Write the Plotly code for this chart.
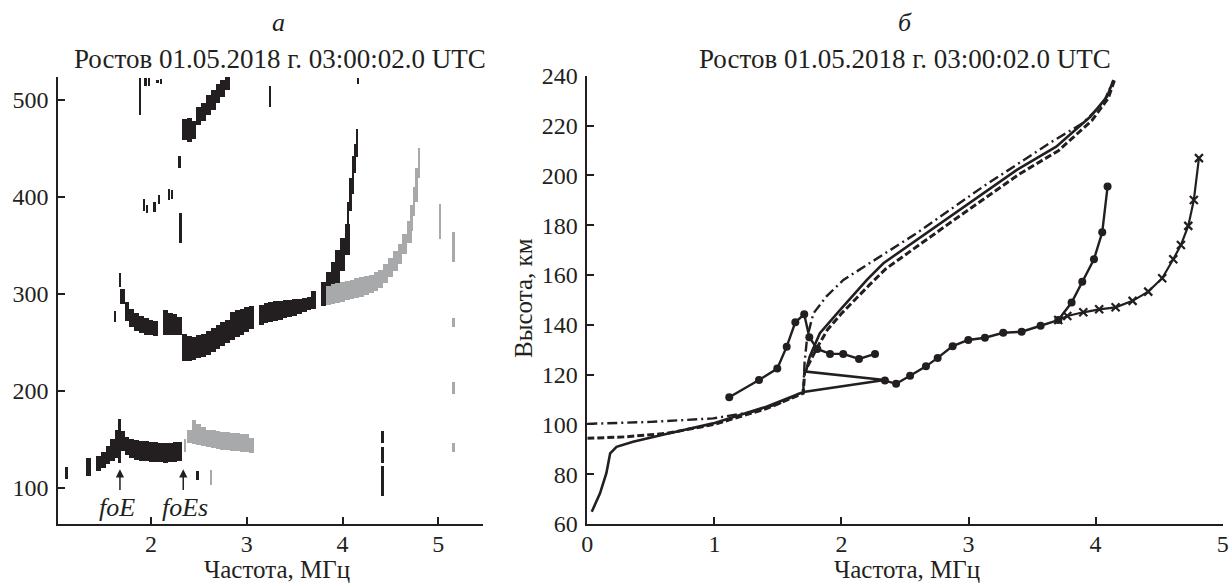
import plotly.graph_objects as go

BLACK = "#231f20"
GREY = "#a8a9ab"
FONT = "Liberation Serif"

# ---------------- panel a: ionogram (frequency, MHz; virtual height, km) ----------------
# ordinary-mode E / Es trace (black)
e_f  = [1.35, 1.45, 1.50, 1.55, 1.60, 1.65, 1.70, 1.75, 1.80, 1.85, 1.90, 1.95,
        2.00, 2.05, 2.10, 2.15, 2.20, 2.25, 2.30]
e_lo = [112, 117, 120, 124, 128, 131, 138, 134, 131, 129, 128, 127,
        126, 126, 126, 125, 126, 126, 127]
e_hi = [131, 133, 137, 143, 150, 160, 158, 152, 150, 149, 148, 148,
        147, 147, 146, 146, 146, 147, 147]

# Es trace above foEs (grey)
es_f  = [2.40, 2.45, 2.50, 2.55, 2.60, 2.65, 2.70, 2.75, 2.80, 2.85, 2.90, 2.95, 3.00, 3.05]
es_lo = [146, 145, 144, 143, 142, 141, 140, 139, 138.5, 138, 137.5, 137, 136.5, 136]
es_hi = [160, 170, 166, 163, 160, 159, 158, 157.5, 157, 156, 156, 155, 155, 151]

# F trace seen through the Es layer (black)
fl_f  = [1.70, 1.75, 1.80, 1.85, 1.90, 1.95, 2.00, 2.05, 2.15, 2.20, 2.25, 2.30]
fl_lo = [290, 272, 266, 262, 260, 258, 257, 256, 258, 258, 257, 257]
fl_hi = [305, 292, 284, 280, 277, 275, 273, 272, 283, 280, 279, 276]

# F trace, ordinary mode (black)
fo_f  = [2.35, 2.40, 2.45, 2.50, 2.55, 2.60, 2.65, 2.70, 2.75, 2.80, 2.85, 2.90,
         2.95, 3.00, 3.05, 3.15, 3.20, 3.25, 3.30, 3.35, 3.40, 3.45, 3.50, 3.55,
         3.60, 3.65, 3.70, 3.80, 3.85, 3.90, 3.95, 4.00, 4.05]
fo_lo = [231, 231, 232, 234, 235, 237, 240, 243, 246, 249, 252, 255,
         258, 261, 264, 268, 270, 271, 272, 273, 275, 276, 277, 279,
         281, 283, 284, 287, 290, 296, 308, 324, 340]
fo_hi = [259, 256, 255, 257, 259, 262, 265, 268, 271, 273, 281, 283,
         284, 286, 287, 288, 291, 292, 293, 293, 294, 294, 295, 295,
         296, 297, 303, 312, 322, 333, 345, 358, 372]

# F trace, extraordinary mode (grey)
fx_f  = [3.85, 3.90, 3.95, 4.00, 4.05, 4.10, 4.15, 4.20, 4.25, 4.30, 4.35, 4.40,
         4.45, 4.50, 4.55, 4.60, 4.65, 4.70]
fx_lo = [288, 290, 291, 292, 294, 295, 296, 297, 299, 301, 303, 306,
         311, 317, 324, 331, 341, 352]
fx_hi = [308, 310, 311, 312, 313, 314, 316, 317, 318, 319, 322, 325,
         331, 337, 344, 351, 362, 375]

# second-hop F trace (black)
f2_f  = [2.35, 2.40, 2.45, 2.50, 2.55, 2.60, 2.65, 2.70, 2.75, 2.80]
f2_lo = [459, 457, 460, 474, 478, 485, 490, 497, 503, 510]
f2_hi = [480, 481, 478, 493, 497, 505, 510, 516, 521, 524]

# narrow echoes and interference lines (black)
nb_f  = [1.12, 1.624, 1.676, 1.675, 4.06, 4.085, 4.11, 4.135, 4.155,
         1.885, 1.945, 1.98, 2.07, 2.11, 3.245, 4.165,
         1.93, 1.96, 2.04, 2.085, 2.19, 2.22, 2.31, 2.30,
         2.49, 4.42, 4.42, 4.42]
nb_lo = [109, 271, 307, 125, 365, 385, 403, 425, 441,
         484, 514, 514, 517, 516, 493, 516,
         385, 383, 384, 393, 397, 398, 352, 430,
         108, 146, 125, 91]
nb_hi = [121, 282, 321, 171, 395, 420, 442, 455, 470,
         523, 523, 523, 521, 522, 514, 523,
         398, 392, 395, 402, 408, 407, 383, 442,
         117, 158, 142, 122]

# narrow echoes and interference lines (grey)
ng_f  = [2.36, 2.63, 4.725, 4.75, 4.775, 4.80, 5.02, 5.16, 5.16, 5.16, 5.16]
ng_lo = [137, 103, 365, 380, 395, 420, 357, 333, 266, 197, 137]
ng_hi = [150, 118, 392, 410, 430, 450, 393, 364, 275, 209, 146]

# ---------------- panel б: height profiles ----------------
prof_es_f = [0.035, 0.10, 0.15, 0.18, 0.23, 0.36, 0.62, 0.99, 1.41, 1.54, 1.70, 2.34,
             1.72, 1.75, 1.83, 1.99, 2.20, 2.33, 2.85, 3.38, 3.69, 3.96, 4.09, 4.14]
prof_es_h = [64.9, 72.3, 80.4, 88.4, 91.0, 93.0, 96.1, 100.4, 107.1, 109.8, 113.0, 117.8,
             121.2, 127.2, 136.6, 146.0, 158.0, 164.7, 183.4, 202.2, 211.5, 223.6, 231.6, 238.3]

prof_dash_f = [0.0, 0.3, 0.625, 1.0, 1.41, 1.54, 1.70, 1.71, 1.74, 1.81, 1.89, 2.0,
               2.22, 2.35, 2.87, 3.40, 3.71, 3.97, 4.10, 4.15]
prof_dash_h = [94.4, 95.0, 96.4, 100.0, 106.3, 109.0, 112.5, 121.0, 124.0, 131.0, 138.0, 144.5,
               156.0, 162.5, 181.5, 200.5, 210.0, 222.0, 231.0, 238.5]

prof_dd_f = [0.0, 0.5, 0.99, 1.30, 1.516, 1.67, 1.70, 1.71, 1.73, 1.78, 1.88, 2.015,
             2.59, 3.116, 3.64, 3.90, 4.06, 4.14]
prof_dd_h = [100.2, 101.0, 102.4, 105.0, 108.5, 112.5, 114.0, 125.0, 135.0, 144.6, 151.3, 158.0,
             176.7, 195.5, 213.0, 221.0, 229.0, 238.0]

hes_f = [1.117, 1.351, 1.495, 1.569, 1.637, 1.707, 1.747, 1.81, 1.91, 2.014, 2.138, 2.264]
hes_h = [110.9, 117.8, 122.4, 131.2, 141.0, 144.2, 135.0, 130.3, 128.3, 128.3, 126.3, 128.3]

ho_f = [2.342, 2.43, 2.54, 2.665, 2.757, 2.875, 2.998, 3.129, 3.273, 3.418, 3.567, 3.706,
        3.811, 3.895, 3.987, 4.052, 4.094]
ho_h = [117.6, 116.3, 119.5, 123.3, 126.7, 131.4, 133.9, 134.8, 136.8, 137.2, 139.6, 141.9,
        148.9, 157.3, 166.3, 177.1, 195.5]

hx_f = [3.706, 3.777, 3.903, 4.028, 4.157, 4.291, 4.414, 4.524, 4.611, 4.671, 4.729, 4.773, 4.813]
hx_h = [141.9, 143.5, 145.0, 146.2, 147.0, 149.6, 153.3, 158.7, 166.3, 172.0, 179.7, 190.1, 206.9]

fig = go.Figure()

BAND_W = 0.05
THIN_W = 0.02


def band(f, lo, hi, color, width):
    fig.add_trace(go.Bar(
        x=f, y=[b - a for a, b in zip(lo, hi)], base=lo, width=width,
        marker=dict(color=color, line=dict(width=0)),
        xaxis="x", yaxis="y", hoverinfo="skip"))


band(e_f, e_lo, e_hi, BLACK, BAND_W)
band(es_f, es_lo, es_hi, GREY, BAND_W)
band(fl_f, fl_lo, fl_hi, BLACK, BAND_W)
band(fo_f, fo_lo, fo_hi, BLACK, BAND_W)
band(fx_f, fx_lo, fx_hi, GREY, BAND_W)
band(f2_f, f2_lo, f2_hi, BLACK, BAND_W)
band(nb_f, nb_lo, nb_hi, BLACK, THIN_W)
band(ng_f, ng_lo, ng_hi, GREY, THIN_W)

# right panel curves
fig.add_trace(go.Scatter(x=prof_dd_f, y=prof_dd_h, mode="lines", xaxis="x2", yaxis="y2",
                         line=dict(color=BLACK, width=2.4, dash="10px,4px,2px,4px")))
fig.add_trace(go.Scatter(x=prof_dash_f, y=prof_dash_h, mode="lines", xaxis="x2", yaxis="y2",
                         line=dict(color=BLACK, width=3, dash="7px,3px")))
fig.add_trace(go.Scatter(x=prof_es_f, y=prof_es_h, mode="lines", xaxis="x2", yaxis="y2",
                         line=dict(color=BLACK, width=2.6)))
fig.add_trace(go.Scatter(x=hes_f, y=hes_h, mode="lines+markers", xaxis="x2", yaxis="y2",
                         line=dict(color=BLACK, width=2.4),
                         marker=dict(symbol="circle", size=8, color=BLACK)))
fig.add_trace(go.Scatter(x=ho_f, y=ho_h, mode="lines+markers", xaxis="x2", yaxis="y2",
                         line=dict(color=BLACK, width=2.4),
                         marker=dict(symbol="circle", size=8, color=BLACK)))
fig.add_trace(go.Scatter(x=hx_f, y=hx_h, mode="lines+markers", xaxis="x2", yaxis="y2",
                         line=dict(color=BLACK, width=2.2),
                         marker=dict(symbol="x-thin", size=8,
                                     line=dict(color=BLACK, width=2.2))))

W, H = 1229, 585


def px(x):
    return x / W


def py(y):
    return 1 - y / H


axis_common = dict(showline=True, linecolor=BLACK, linewidth=1.6, ticks="inside",
                   ticklen=7, tickwidth=1.5, tickcolor=BLACK, showgrid=False,
                   zeroline=False, automargin=False,
                   tickfont=dict(family=FONT, size=24, color=BLACK))
x_common = dict(ticklabelstandoff=-3, **axis_common)
y_common = dict(ticklabelstandoff=3, **axis_common)

fig.update_layout(
    width=W, height=H, margin=dict(l=0, r=0, t=0, b=0, pad=0),
    paper_bgcolor="white", plot_bgcolor="white",
    barmode="overlay", bargap=0, showlegend=False,
    font=dict(family=FONT, color=BLACK),
    xaxis=dict(domain=[px(58), px(482.7)], range=[1.029, 5.464], anchor="y",
               tickvals=[2, 3, 4, 5], **x_common),
    yaxis=dict(domain=[py(524), py(77)], range=[62.5, 523.7], anchor="x",
               tickvals=[100, 200, 300, 400, 500], **y_common),
    xaxis2=dict(domain=[px(587.3), px(1222.7)], range=[0, 5], anchor="y2",
                tickvals=[0, 1, 2, 3, 4, 5], **x_common),
    yaxis2=dict(domain=[py(524), py(75.7)], range=[60, 240], anchor="x2",
                tickvals=list(range(60, 241, 20)), **y_common),
)

title = "Ростов 01.05.2018 г. 03:00:02.0 UTC"


def label(cx, cy, text, size=26, **kw):
    return dict(x=px(cx), y=py(cy), xref="paper", yref="paper", text=text,
                xanchor="center", yanchor="middle", showarrow=False,
                font=dict(family=FONT, size=size, color=BLACK), **kw)


ann = []
for cx, letter in [(278, "а"), (905, "б")]:
    ann.append(label(cx, 23, f"<i>{letter}</i>"))
for cx in (279.5, 905):
    ann.append(label(cx, 59, title, size=27))
for cx in (277, 907):
    ann.append(label(cx, 569, "Частота, МГц", size=25))
ann.append(label(523, 298, "Высота, км", size=25, textangle=-90))

# critical-frequency markers on the ionogram
for f0, name, fx in [(1.676, "foE", 1.65), (2.337, "foEs", 2.355)]:
    ann.append(dict(x=f0, y=119, ax=f0, ay=96, xref="x", yref="y", axref="x", ayref="y",
                    text="", showarrow=True, arrowhead=2, arrowsize=1.1, arrowwidth=1.5,
                    arrowcolor=BLACK))
    ann.append(dict(x=fx, y=79.5, xref="x", yref="y", text=f"<i>{name}</i>",
                    xanchor="center", yanchor="middle", showarrow=False,
                    font=dict(family=FONT, size=26, color=BLACK)))

fig.update_layout(annotations=ann)
fig.write_html("out.html")
